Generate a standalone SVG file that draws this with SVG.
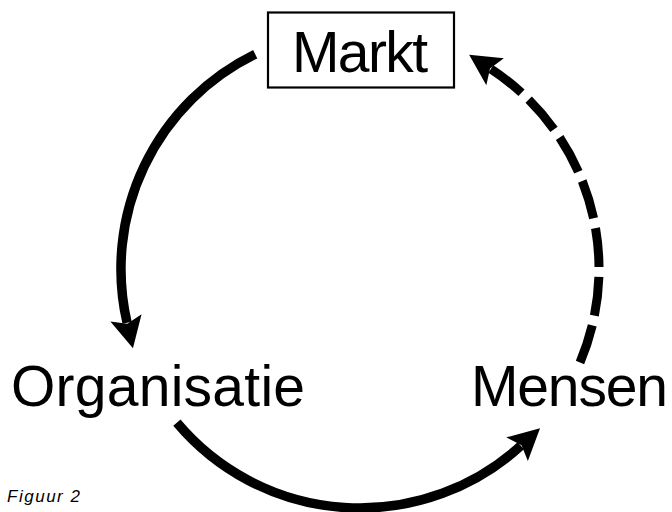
<svg xmlns="http://www.w3.org/2000/svg" width="672" height="512" viewBox="0 0 672 512">
<style>
.lbl{font-family:"Liberation Sans",Arial,Helvetica,sans-serif;font-size:57px;fill:#000}
.cap{font-family:"Liberation Sans",Arial,Helvetica,sans-serif;font-size:17px;font-style:italic;fill:#000}
.arc{fill:none;stroke:#000;stroke-width:9.5;stroke-linecap:butt}
.dash{stroke-width:9;stroke-dasharray:39 10}
</style>
<defs>
<marker id="head" markerUnits="userSpaceOnUse" markerWidth="60" markerHeight="60" refX="0" refY="0" orient="auto" style="overflow:visible">
<path d="M26,0 L-5,-16 L1,0 L-5,16 Z" fill="#000"/>
</marker>
</defs>
<rect width="672" height="512" fill="#fff"/>
<g id="connectors">
<path class="arc" d="M255.2,54.2 A239,239 0 0 0 127.1,322.8" marker-end="url(#head)"/>
<path class="arc" d="M176.9,422.6 A239,239 0 0 0 520.8,445.8" marker-end="url(#head)"/>
<path class="arc dash" d="M580,362.4 A239,239 0 0 0 490.9,69" marker-end="url(#head)"/>
</g>
<g id="markt">
<rect x="268" y="12.5" width="186" height="75" fill="#fff" stroke="#000" stroke-width="2.2"/>
<text class="lbl" x="292" y="72" textLength="136">Markt</text>
</g>
<g id="organisatie">
<text class="lbl" x="11" y="406" textLength="294">Organisatie</text>
</g>
<g id="mensen">
<text class="lbl" x="471" y="406" textLength="197">Mensen</text>
</g>
<g id="caption">
<text class="cap" x="7" y="502" textLength="73">Figuur 2</text>
</g>
</svg>
